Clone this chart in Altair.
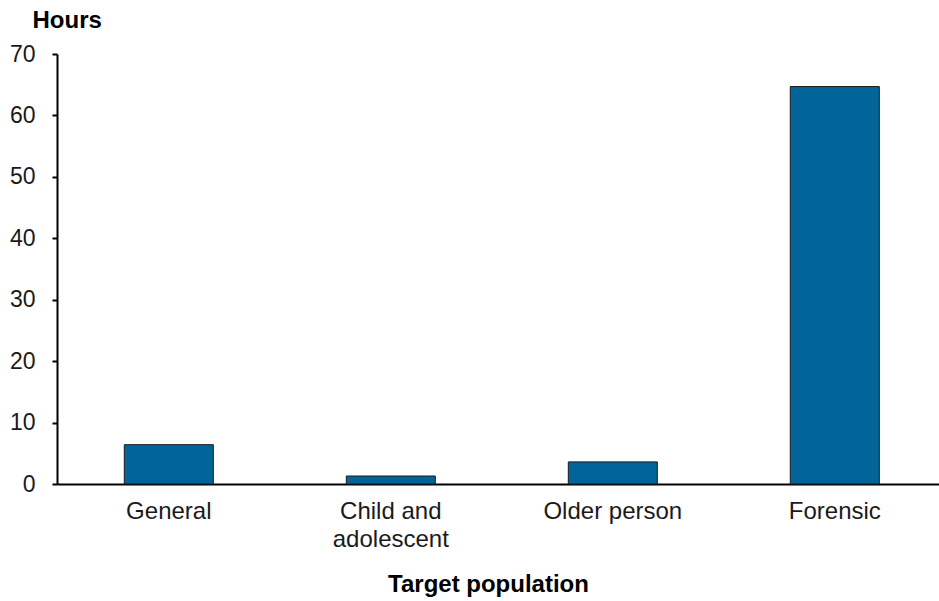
import altair as alt
import pandas as pd

categories = ["General", "Child and adolescent", "Older person", "Forensic"]
hours = [6.4, 1.3, 3.6, 64.7]

df = pd.DataFrame({"population": categories, "hours": hours})

FONT = "Liberation Sans"

chart = alt.Chart(df).mark_bar(
    color="#02659A", stroke="#1a1a1a", strokeWidth=1
).encode(
    x=alt.X(
        "population:N",
        sort=categories,
        scale=alt.Scale(paddingInner=0.599, paddingOuter=0.286, align=0.53),
        axis=alt.Axis(
            title="Target population",
            labelAngle=0,
            labelExpr="datum.label == 'Child and adolescent' ? ['Child and', 'adolescent'] : datum.label",
            labelFont=FONT, labelFontSize=24, labelColor="#1a1a1a",
            labelPadding=15, labelLineHeight=28,
            ticks=False, domainColor="#000000", domainWidth=2,
            titleFont=FONT, titleFontSize=24, titleFontWeight="bold", titleColor="#000000",
            titleAlign="center", titleBaseline="alphabetic",
            titleX=431, titleY=107,
        ),
    ),
    y=alt.Y(
        "hours:Q",
        scale=alt.Scale(domain=[0, 70], nice=False),
        axis=alt.Axis(
            title="Hours",
            values=[0, 10, 20, 30, 40, 50, 60, 70],
            grid=False,
            labelFont=FONT, labelFontSize=23, labelColor="#1a1a1a",
            labelPadding=17,
            tickSize=5, tickColor="#000000", tickWidth=2,
            domainColor="#000000", domainWidth=2,
            titleFont=FONT, titleFontSize=24, titleFontWeight="bold", titleColor="#000000",
            titleAngle=0, titleAlign="left", titleBaseline="alphabetic",
            titleX=-25, titleY=-27,
        ),
    ),
).properties(
    width=882,
    height=430,
    background="white",
    autosize=alt.AutoSizeParams(type="none"),
    padding={"left": 57, "top": 54, "right": 0, "bottom": 117},
).configure_view(stroke=None, strokeWidth=0)

chart.save("out.html", embed_options={"renderer": "svg", "actions": False})
